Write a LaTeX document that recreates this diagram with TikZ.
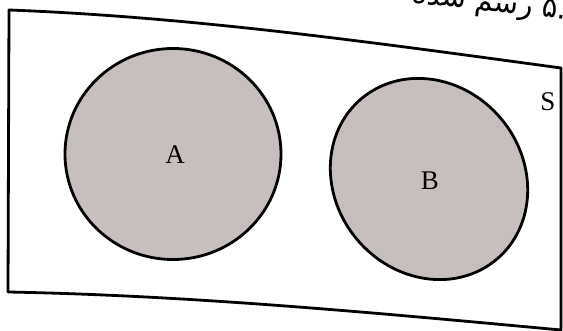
\documentclass[tikz,border=0pt]{standalone}
\usepackage{fontspec}
\setmainfont{Liberation Serif}
\newfontfamily\arabicfont[Script=Arabic]{DejaVu Sans}
\TeXXeTstate=1
\definecolor{setfill}{RGB}{199,191,190}
\begin{document}
\begin{tikzpicture}[x=1pt,y=-1pt,
  frame/.style={line width=2.8pt,line join=round},
  setshape/.style={draw=black,fill=setfill,line width=2.8pt},
  setlabel/.style={font=\fontsize{27}{27}\selectfont,inner sep=0pt},
  persian/.style={font=\arabicfont\fontsize{29}{29}\selectfont,inner sep=0pt}]
\useasboundingbox (0,0) rectangle (563,331);
\clip (0,0) rectangle (563,331);
% universal set frame
\draw[frame] (9,10) .. controls (193,17) and (377,43) .. (561,68)
  -- (561,330) .. controls (377,313) and (192,295.5) .. (8,292) -- cycle;
% sets
\draw[setshape] (173,154) ellipse [x radius=108, y radius=105.5];
\draw[setshape] (429,179) ellipse [x radius=105, y radius=94, rotate=-50];
% labels
\node[setlabel] (A) at (175,155) {A};
\node[setlabel] (B) at (430,181) {B};
\node[setlabel] (S) at (548,102) {S};
% caption text (photo is tilted, top edge cuts it)
\node[persian,anchor=base east,rotate=-6] (cap) at (566,19)
  {\beginR رسم شده\endR\ ۵\kern0pt.};
\end{tikzpicture}
\end{document}
